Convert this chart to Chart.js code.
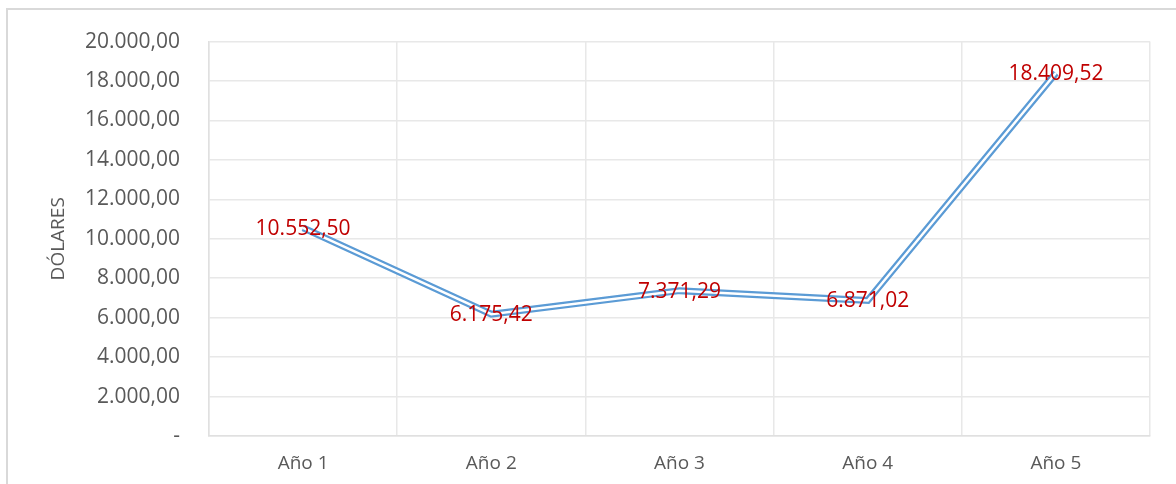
<!DOCTYPE html>
<html>
<head>
<meta charset="utf-8">
<script src="https://cdn.jsdelivr.net/npm/chart.js@4"></script>
<style>
  body { margin: 0; background: #fff; }
  #frame { position: absolute; left: 6px; top: 8px; width: 1180px; height: 490px;
           border-left: 2px solid #d9d9d9; border-top: 2px solid #d9d9d9; }
  #chart { position: absolute; left: 0; top: 0; }
</style>
</head>
<body>
<div id="frame"></div>
<canvas id="chart" width="1176" height="484"></canvas>
<script>
const years = ['Año 1', 'Año 2', 'Año 3', 'Año 4', 'Año 5'];
const dollars = [10552.50, 6175.42, 7371.29, 6871.02, 18409.52];
const yTicks = [0, 2000, 4000, 6000, 8000, 10000, 12000, 14000, 16000, 18000, 20000];

// 12345.6 -> "12.345,60" (formato español)
function fmt(v) {
  let parts = v.toFixed(2).split('.');
  let ent = parts[0].replace(/\B(?=(\d{3})+(?!\d))/g, '.');
  return ent + ',' + parts[1];
}

const font = "'Open Sans', sans-serif";

// etiquetas rojas centradas sobre cada punto
const labelPlugin = {
  id: 'valueLabels',
  afterDatasetsDraw(chart) {
    let ctx = chart.ctx;
    let meta = chart.getDatasetMeta(0);
    ctx.save();
    ctx.font = '21px ' + font;
    ctx.fillStyle = '#C00000';
    ctx.textAlign = 'center';
    ctx.textBaseline = 'middle';
    meta.data.forEach((pt, i) => {
      ctx.fillText(fmt(dollars[i]), pt.x, pt.y + 1);
    });
    ctx.restore();
  }
};

new Chart(document.getElementById('chart'), {
  type: 'line',
  data: {
    labels: years,
    datasets: [
      // línea doble: trazo azul ancho con un trazo blanco fino encima
      { data: dollars, borderColor: '#5B9BD5', borderWidth: 7, pointRadius: 0, borderJoinStyle: 'miter', tension: 0, order: 2 },
      { data: dollars, borderColor: '#ffffff', borderWidth: 2.5, pointRadius: 0, borderJoinStyle: 'miter', tension: 0, order: 1 }
    ]
  },
  options: {
    responsive: false,
    animation: false,
    layout: { padding: { left: 40, top: 35, right: 26, bottom: 0 } },
    plugins: { legend: { display: false }, tooltip: { enabled: false } },
    scales: {
      x: {
        offset: true,
        grid: { offset: true, color: '#e8e8e8', lineWidth: 1.5, drawTicks: false },
        border: { color: '#e0e0e0', width: 1.5 },
        ticks: { color: '#595959', font: { family: font, size: 19 }, padding: 16 },
        afterFit(s) { s.height = 48; }
      },
      y: {
        min: 0,
        max: 20000,
        afterBuildTicks(s) { s.ticks = yTicks.map(v => ({ value: v })); },
        grid: { color: '#e8e8e8', lineWidth: 1.5, drawTicks: false },
        border: { color: '#e0e0e0', width: 1.5 },
        ticks: {
          color: '#595959',
          font: { family: font, size: 21 },
          padding: 29,
          callback: v => v === 0 ? '-' : fmt(v)
        },
        title: {
          display: true,
          text: 'DÓLARES',
          color: '#595959',
          font: { family: font, size: 19 },
          padding: { top: 7, bottom: 0 }
        },
        afterFit(s) { s.width = 169; }
      }
    }
  },
  plugins: [labelPlugin]
});
</script>
</body>
</html>
